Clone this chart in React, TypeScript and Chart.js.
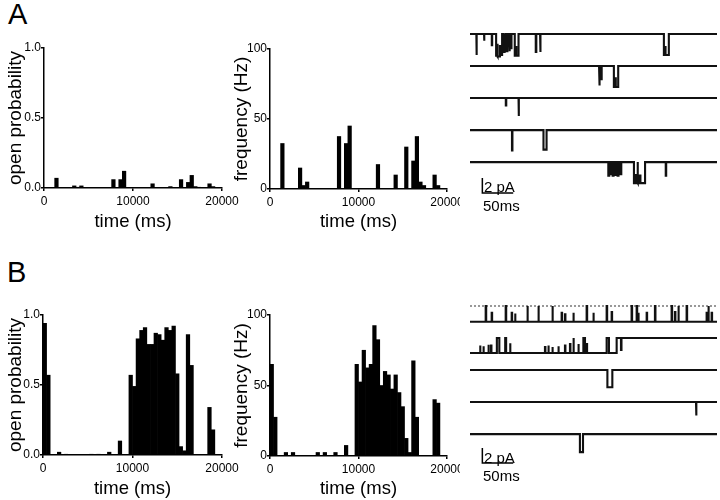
import React, { useEffect, useRef } from "react";
import { Chart, registerables } from "chart.js";

Chart.register(...registerables);

// ---------- histogram data (400 ms bins, 0 - 20000 ms) ----------
const BIN_MS = 400;
const TIME_TICKS = [0, 10000, 20000];
const OPEN_TICKS = [0, 0.5, 1];
const FREQ_TICKS = [0, 50, 100];

const A_OPEN_PROB = [
  0, 0, 0, 0.07, 0, 0, 0, 0, 0.015, 0.003,
  0.015, 0, 0, 0, 0, 0, 0, 0, 0, 0.06,
  0, 0.06, 0.12, 0, 0, 0, 0, 0, 0, 0,
  0.03, 0, 0, 0, 0, 0.01, 0, 0, 0.06, 0,
  0.04, 0.09, 0.01, 0.005, 0, 0, 0.03, 0.01, 0, 0,
];
const A_FREQ = [
  0, 0, 0, 32.5, 0, 0, 0, 0, 15, 2.5,
  5, 0, 0, 0, 0, 0, 0, 0, 0, 37.5,
  0, 32.5, 45, 0, 0, 0, 0, 0, 0, 0,
  17.5, 0, 0, 0, 0, 10, 0, 0, 30, 0,
  20, 37.5, 5, 2.5, 0, 0, 10, 2.5, 0, 0,
];
const B_OPEN_PROB = [
  0.94, 0.57, 0, 0, 0.02, 0, 0.005, 0, 0, 0,
  0, 0, 0, 0.005, 0, 0.005, 0, 0, 0.02, 0,
  0, 0.1, 0, 0, 0.57, 0.49, 0.83, 0.89, 0.91, 0.79,
  0.79, 0.87, 0.86, 0.82, 0.91, 0.89, 0.92, 0.58, 0.06, 0.03,
  0.86, 0.64, 0, 0, 0, 0, 0.34, 0.18, 0, 0,
];
const B_FREQ = [
  65, 27.5, 0, 0, 2.5, 0, 2.5, 0, 0, 0,
  0, 0, 0, 2.5, 0, 2.5, 0, 0, 2.5, 0,
  0, 7.5, 0, 0, 65, 52.5, 75, 62.5, 65, 92.5,
  82.5, 50, 60, 57.5, 47.5, 57.5, 45, 35, 12.5, 2.5,
  67.5, 27.5, 0, 0, 0, 0, 40, 37.5, 0, 0,
];

// ---------- single-channel traces: [start ms, end ms, current pA] ----------
type Ev = [number, number, number];
const TRACE_MS = 400;
const ROW_GAP_PA = 4.27;
const SCALE_PA = 2;
const SCALE_MS = 50;

const A_TRACE_1: Ev[] = [
  [10.3, 11.0, -2.8], [22.8, 23.3, -0.9], [35.3, 35.9, -1.5],
  [42.3, 44.0, -2.9], [44.0, 45.0, -1.3], [45.0, 48.5, -3.0], [48.5, 49.5, -1.6], [49.5, 52.0, -2.8],
  [54.0, 55.2, -2.4], [56.5, 57.6, -2.2], [59.0, 60.6, -2.3],
  [63.5, 64.6, -2.3], [66.0, 67.2, -1.9],
  [72.5, 74.5, -2.9], [74.5, 75.3, -1.6], [75.3, 78.6, -2.9],
  [106.5, 107.4, -2.4], [113.5, 114.4, -2.4],
  [314.0, 316.0, -2.8], [316.0, 317.0, -1.6], [317.0, 322.0, -2.8],
];
const A_TRACE_2: Ev[] = [
  [209.0, 210.2, -2.6], [212.5, 213.6, -1.9],
  [233.0, 235.5, -2.8], [235.5, 236.4, -1.5], [236.4, 240.0, -2.8],
];
const A_TRACE_3: Ev[] = [[58.0, 58.7, -1.0], [78.6, 79.3, -2.4]];
const A_TRACE_4: Ev[] = [[68.0, 68.7, -2.7], [119.0, 124.0, -2.6]];
const A_TRACE_5: Ev[] = [
  [224.0, 225.5, -1.8], [227.5, 229.0, -1.6], [231.0, 232.5, -1.8], [235.0, 236.5, -1.7],
  [239.0, 240.5, -1.8], [243.0, 245.0, -1.6],
  [265.5, 267.5, -2.8], [267.5, 268.6, -1.6], [268.6, 271.0, -2.7], [272.0, 275.0, -2.8],
  [275.0, 276.0, -1.8], [276.0, 283.5, -2.8], [317.0, 317.7, -1.8],
];
const A_BASE = [0, 0, 0, 0, 0];

const B_TRACE_1: Ev[] = [
  [25.4, 26.2, 0], [35.1, 35.8, -0.9], [57.8, 58.6, 0], [67.5, 68.2, -0.9], [72.9, 73.6, -1.0],
  [92.8, 93.6, 0], [110.6, 111.4, 0], [133.3, 134.1, 0], [148.4, 149.1, -0.9], [153.8, 154.5, -1.1],
  [167.3, 168.0, -0.9], [188.9, 189.7, 0], [199.7, 200.4, -0.9], [221.3, 222.1, 0], [229.4, 230.1, -0.8],
  [261.7, 262.5, 0], [269.9, 270.7, 0], [272.5, 273.2, -0.9], [286.1, 286.8, -0.9], [299.5, 300.3, 0],
  [326.5, 327.3, 0], [331.9, 332.6, -0.8], [337.3, 338.1, 0], [350.8, 351.6, 0], [383.2, 383.9, -0.9],
  [385.9, 386.7, 0], [391.3, 392.0, -0.9],
];
const B_TRACE_2: Ev[] = [
  [16.2, 16.9, -1.0], [21.6, 22.3, -1.1], [29.7, 30.4, -0.9], [34.0, 34.7, -1.0], [43.5, 47.5, 0],
  [57.0, 58.5, 0], [64.8, 65.5, -0.7], [121.4, 122.1, -1.2], [126.8, 127.5, -1.0], [133.3, 134.0, -1.2],
  [143.0, 143.7, -1.1], [153.8, 154.5, -1.0], [161.9, 162.6, -0.8], [167.3, 168.1, 0], [175.4, 176.1, -0.8],
  [183.6, 186.2, 0], [188.9, 189.6, -0.8], [221.3, 225.0, 0],
  [237.5, 244.5, 0], [244.5, 245.3, -1.6], [245.3, 400, 0],
];
const B_TRACE_3: Ev[] = [[222.5, 230.5, -2.3]];
const B_TRACE_4: Ev[] = [[366.0, 366.8, -1.8]];
const B_TRACE_5: Ev[] = [[178.0, 183.0, -2.4]];
const B_BASE = [-2.1, -2.0, 0, 0, 0];

const FONT = "'Liberation Sans', Arial, Helvetica, sans-serif";

type Box = { left: number; top: number; width: number; height: number };
type Plot = { left: number; top: number; right: number; bottom: number };

function Hist(props: {
  values: number[];
  yTicks: number[];
  yDecimals: number;
  yTitle: string;
  box: Box;
  plot: Plot;
  yTitlePad: number;
  xTitlePad: number;
}) {
  const ref = useRef<HTMLCanvasElement | null>(null);
  useEffect(() => {
    const { values, yTicks, yDecimals, yTitle, box, plot, yTitlePad, xTitlePad } = props;
    const axisGrid = {
      display: true,
      drawOnChartArea: false,
      drawTicks: true,
      tickLength: 3,
      color: "#000",
      lineWidth: 1.5,
      offset: false,
    };
    const axisBorder = { display: true, color: "#000", width: 1.5 };
    const chart = new Chart(ref.current as HTMLCanvasElement, {
      type: "bar",
      data: {
        datasets: [
          {
            data: values.map((v, i) => ({ x: i * BIN_MS + BIN_MS / 2, y: v })),
            backgroundColor: "#000",
            borderWidth: 0,
            barPercentage: 1,
            categoryPercentage: 1,
          } as any,
        ],
      },
      options: {
        animation: false,
        responsive: false,
        devicePixelRatio: 1,
        layout: {
          autoPadding: false,
          padding: { left: 0, top: plot.top, right: box.width - plot.right, bottom: 0 },
        },
        plugins: { legend: { display: false }, tooltip: { enabled: false } },
        scales: {
          x: {
            type: "linear",
            min: TIME_TICKS[0],
            max: TIME_TICKS[TIME_TICKS.length - 1],
            offset: false,
            afterBuildTicks: (s: any) => {
              s.ticks = TIME_TICKS.map((v) => ({ value: v }));
            },
            afterFit: (s: any) => {
              s.height = box.height - plot.bottom;
              s.paddingLeft = 0;
              s.paddingRight = 0;
            },
            ticks: {
              color: "#000",
              font: { family: FONT, size: 12 },
              padding: 3,
              maxRotation: 0,
              autoSkip: false,
              callback: (v: any) => String(v),
            },
            grid: axisGrid,
            border: axisBorder,
            title: {
              display: true,
              text: "time (ms)",
              color: "#000",
              font: { family: FONT, size: 18.5 },
              padding: { top: 0, bottom: xTitlePad },
            },
          } as any,
          y: {
            type: "linear",
            min: yTicks[0],
            max: yTicks[yTicks.length - 1],
            afterBuildTicks: (s: any) => {
              s.ticks = yTicks.map((v) => ({ value: v }));
            },
            afterFit: (s: any) => {
              s.width = plot.left;
              s.paddingTop = 0;
              s.paddingBottom = 0;
            },
            ticks: {
              color: "#000",
              font: { family: FONT, size: 12 },
              padding: 0,
              callback: (v: any) => Number(v).toFixed(yDecimals),
            },
            grid: axisGrid,
            border: axisBorder,
            title: {
              display: true,
              text: yTitle,
              color: "#000",
              font: { family: FONT, size: 19 },
              padding: { top: yTitlePad, bottom: 0 },
            },
          } as any,
        },
      },
    });
    return () => chart.destroy();
  }, []);
  const { box } = props;
  return (
    <canvas
      ref={ref}
      width={box.width}
      height={box.height}
      style={{ position: "absolute", left: box.left, top: box.top, width: box.width, height: box.height }}
    />
  );
}

function tracePoints(events: Ev[], base: number, offset: number) {
  const pts: { x: number; y: number }[] = [{ x: 0, y: offset + base }];
  let cur = base;
  let tCur = 0;
  for (const [t0, t1, lv] of events) {
    if (t0 > tCur) {
      if (cur !== base) pts.push({ x: tCur, y: offset + base });
      pts.push({ x: t0, y: offset + base });
    }
    pts.push({ x: t0, y: offset + lv }, { x: t1, y: offset + lv });
    cur = lv;
    tCur = t1;
  }
  if (tCur < TRACE_MS) {
    pts.push({ x: tCur, y: offset + base }, { x: TRACE_MS, y: offset + base });
  }
  return pts;
}

function Traces(props: {
  rows: Ev[][];
  bases: number[];
  box: Box;
  yTop: number;
  scaleTop: number;
  dottedRow: number;
}) {
  const ref = useRef<HTMLCanvasElement | null>(null);
  useEffect(() => {
    const { rows, bases, box, yTop, scaleTop, dottedRow } = props;
    const datasets: any[] = rows.map((ev, i) => ({
      data: tracePoints(ev, bases[i], -i * ROW_GAP_PA),
      borderColor: "#111",
      borderWidth: 2.1,
      borderJoinStyle: "miter",
      pointRadius: 0,
      tension: 0,
      fill: false,
      clip: false,
    }));
    if (dottedRow >= 0) {
      datasets.push({
        data: [
          { x: 0, y: -dottedRow * ROW_GAP_PA },
          { x: TRACE_MS, y: -dottedRow * ROW_GAP_PA },
        ],
        borderColor: "#000",
        borderWidth: 0.8,
        borderDash: [2, 2],
        pointRadius: 0,
        clip: false,
      });
    }
    const sbT = 20;
    datasets.push({
      data: [
        { x: sbT, y: scaleTop },
        { x: sbT, y: scaleTop - SCALE_PA },
        { x: sbT + SCALE_MS, y: scaleTop - SCALE_PA },
      ],
      borderColor: "#000",
      borderWidth: 1.5,
      pointRadius: 0,
      clip: false,
    });
    const pxPerPa = 7.5;
    const chart = new Chart(ref.current as HTMLCanvasElement, {
      type: "line",
      data: { datasets },
      options: {
        animation: false,
        responsive: false,
        devicePixelRatio: 1,
        layout: { autoPadding: false, padding: 0 },
        plugins: { legend: { display: false }, tooltip: { enabled: false } },
        scales: {
          x: { type: "linear", min: 0, max: TRACE_MS, display: false },
          y: { type: "linear", min: yTop - box.height / pxPerPa, max: yTop, display: false },
        },
      } as any,
    });
    return () => chart.destroy();
  }, []);
  const { box } = props;
  return (
    <canvas
      ref={ref}
      width={box.width}
      height={box.height}
      style={{ position: "absolute", left: box.left, top: box.top, width: box.width, height: box.height }}
    />
  );
}

const txt = (left: number, top: number, size: number, s: string) => (
  <div
    style={{
      position: "absolute",
      left,
      top,
      fontSize: size,
      lineHeight: `${size}px`,
      fontFamily: FONT,
      color: "#000",
      whiteSpace: "nowrap",
    }}
  >
    {s}
  </div>
);

export default function App() {
  return (
    <div style={{ position: "absolute", left: 0, top: 0, width: 720, height: 500, background: "#fff", overflow: "hidden" }}>
      {txt(8, 0, 29, "A")}
      {txt(7, 258, 29, "B")}

      <Hist
        values={A_OPEN_PROB}
        yTicks={OPEN_TICKS}
        yDecimals={1}
        yTitle="open probability"
        box={{ left: 0, top: 30, width: 240, height: 205 }}
        plot={{ left: 44, top: 18, right: 222, bottom: 158 }}
        yTitlePad={4}
        xTitlePad={2}
      />
      <Hist
        values={A_FREQ}
        yTicks={FREQ_TICKS}
        yDecimals={0}
        yTitle="frequency (Hz)"
        box={{ left: 229, top: 30, width: 231, height: 205 }}
        plot={{ left: 41, top: 19, right: 218, bottom: 159 }}
        yTitlePad={1}
        xTitlePad={2}
      />
      <Hist
        values={B_OPEN_PROB}
        yTicks={OPEN_TICKS}
        yDecimals={1}
        yTitle="open probability"
        box={{ left: 0, top: 290, width: 240, height: 210 }}
        plot={{ left: 43, top: 25, right: 222, bottom: 165 }}
        yTitlePad={4}
        xTitlePad={0}
      />
      <Hist
        values={B_FREQ}
        yTicks={FREQ_TICKS}
        yDecimals={0}
        yTitle="frequency (Hz)"
        box={{ left: 229, top: 290, width: 231, height: 210 }}
        plot={{ left: 41, top: 25, right: 218, bottom: 166 }}
        yTitlePad={1}
        xTitlePad={0}
      />

      <Traces
        rows={[A_TRACE_1, A_TRACE_2, A_TRACE_3, A_TRACE_4, A_TRACE_5]}
        bases={A_BASE}
        box={{ left: 470, top: 20, width: 247, height: 180 }}
        yTop={1.867}
        scaleTop={-19.2}
        dottedRow={-1}
      />
      <Traces
        rows={[B_TRACE_1, B_TRACE_2, B_TRACE_3, B_TRACE_4, B_TRACE_5]}
        bases={B_BASE}
        box={{ left: 470, top: 290, width: 247, height: 180 }}
        yTop={2.133}
        scaleTop={-18.93}
        dottedRow={0}
      />

      {txt(484, 179, 15, "2 pA")}
      {txt(483, 198, 15, "50ms")}
      {txt(484, 450, 15, "2 pA")}
      {txt(483, 468, 15, "50ms")}
    </div>
  );
}
